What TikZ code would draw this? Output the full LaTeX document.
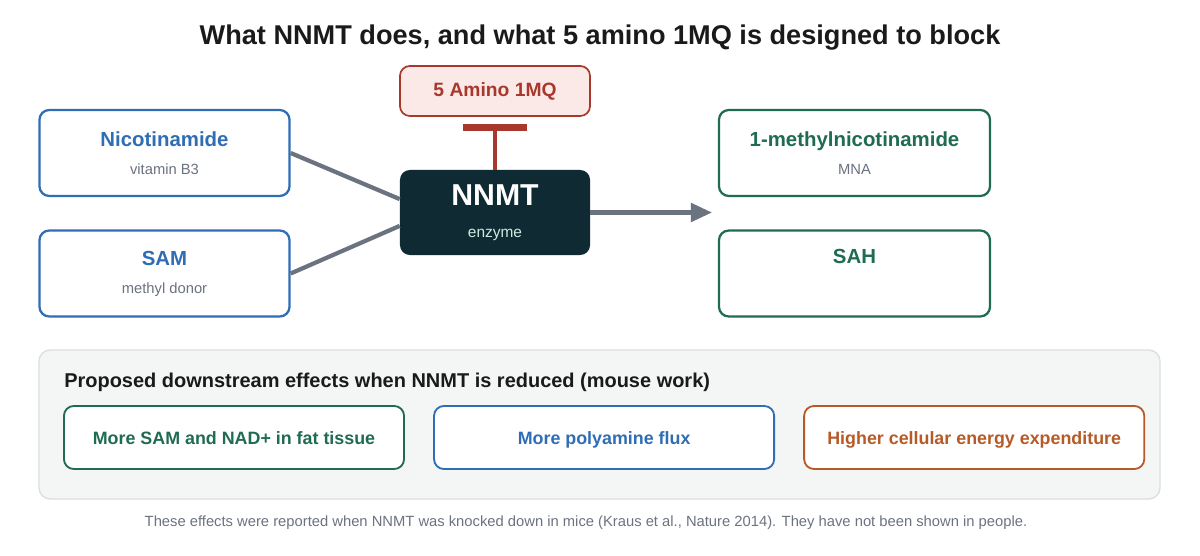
\documentclass[tikz,border=0pt]{standalone}
\usepackage{fontspec}
\setmainfont{Liberation Sans}
\usepackage{tikz}
\usetikzlibrary{shapes.geometric, arrows, arrows.meta, positioning, calc}

\definecolor{titleblack}{HTML}{1A1A1A}
\definecolor{inblue}{HTML}{2F6DB5}
\definecolor{outgreen}{HTML}{1F6B53}
\definecolor{drugred}{HTML}{A8372C}
\definecolor{drugfill}{HTML}{FBE9E8}
\definecolor{enzdark}{HTML}{0F2A32}
\definecolor{enzsub}{HTML}{CDEBE0}
\definecolor{linegray}{HTML}{6B7280}
\definecolor{subgray}{HTML}{6B7280}
\definecolor{efforange}{HTML}{B65B27}
\definecolor{panelfill}{HTML}{F4F6F5}
\definecolor{panelline}{HTML}{DCDFDF}

\tikzstyle{inbox} = [rectangle, rounded corners=7pt, draw=inblue, line width=1.6pt, fill=white, text=inblue, minimum width=6.25cm, minimum height=2.15cm, align=center, font=\fontsize{14.5}{17}\selectfont\bfseries]
\tikzstyle{outbox} = [inbox, draw=outgreen, text=outgreen, minimum width=6.775cm]
\tikzstyle{drug} = [rectangle, rounded corners=7pt, draw=drugred, line width=1.2pt, fill=drugfill, text=drugred, minimum width=4.75cm, minimum height=1.25cm, font=\fontsize{13.7}{16}\selectfont\bfseries]
\tikzstyle{enzyme} = [rectangle, rounded corners=7pt, fill=enzdark, text=white, minimum width=4.75cm, minimum height=2.125cm, align=center, font=\fontsize{21.5}{24}\selectfont\bfseries]
\tikzstyle{effect} = [rectangle, rounded corners=7pt, line width=1.3pt, fill=white, outer sep=0pt, minimum width=8.5cm, minimum height=1.575cm, text height=11.8pt, text depth=2.5pt, font=\fontsize{12.7}{15}\selectfont\bfseries]
\tikzstyle{feed} = [line width=3pt, draw=linegray]
\tikzstyle{arrow} = [line width=3pt, draw=linegray, -{Triangle[length=15pt,width=13pt]}]
\tikzstyle{inhibit} = [line width=3.5pt, draw=drugred]

\begin{document}
\begin{tikzpicture}[x=0.025cm, y=-0.025cm, node distance=0.75cm]
    \useasboundingbox (0,0) rectangle (1200,556);

    % Title
    \node (title) at (600,38) [font=\fontsize{19.3}{23}\selectfont\bfseries, text=titleblack] {What NNMT does, and what 5 amino 1MQ is designed to block};

    % Substrates
    \node (nic) [inbox] at (164.5,153) {Nicotinamide\\[3pt]{\fontsize{10.5}{13}\selectfont\mdseries\color{subgray}vitamin B3}};
    \node (sam) [inbox] at (164.5,273.5) {SAM\\[3pt]{\fontsize{10.5}{13}\selectfont\mdseries\color{subgray}methyl donor}};

    % Enzyme and inhibitor
    \node (nnmt) [enzyme] at (495,212.5) {NNMT\\[-1pt]{\fontsize{11}{13}\selectfont\mdseries\color{enzsub}enzyme}};
    \node (amino) [drug] at (495,91) {5 Amino 1MQ};
    \coordinate (blockbar) at (495,127.5);

    % Products
    \node (mna) [outbox] at (854.5,153) {1-methylnicotinamide\\[3pt]{\fontsize{10.5}{13}\selectfont\mdseries\color{subgray}MNA}};
    \node (sah) [outbox] at (854.5,273.5) {SAH\\[3pt]{\fontsize{10.5}{13}\selectfont\mdseries\strut}};
    \coordinate (prodin) at (712,212.5);

    % Connections
    \draw [feed] (nic.east) -- (nnmt.172);
    \draw [feed] (sam.east) -- (nnmt.188);
    \draw [arrow] (nnmt.east) -- (prodin);
    \draw [inhibit] (nnmt.north) -- (blockbar);
    \draw [drugred, line width=5pt] ($(blockbar)+(-32,0)$) -- ($(blockbar)+(32,0)$);

    % Downstream effects
    \draw [rounded corners=8pt, draw=panelline, fill=panelfill, line width=1pt] (39,350) rectangle (1160,499);
    \node (effhead) [anchor=west, inner sep=0pt, font=\fontsize{14.2}{17}\selectfont\bfseries, text=titleblack] at (64,382) {Proposed downstream effects when NNMT is reduced (mouse work)};
    \node (eff1) [effect, draw=outgreen, text=outgreen] at (234,437.5) {More SAM and NAD+ in fat tissue};
    \node (eff2) [effect, draw=inblue, text=inblue, right=of eff1] {More polyamine flux};
    \node (eff3) [effect, draw=efforange, text=efforange, right=of eff2] {Higher cellular energy expenditure};

    % Footnote
    \node (note) at (586,523) [font=\fontsize{10.5}{13}\selectfont, text=subgray] {These effects were reported when NNMT was knocked down in mice (Kraus et al., Nature 2014). They have not been shown in people.};
\end{tikzpicture}
\end{document}
